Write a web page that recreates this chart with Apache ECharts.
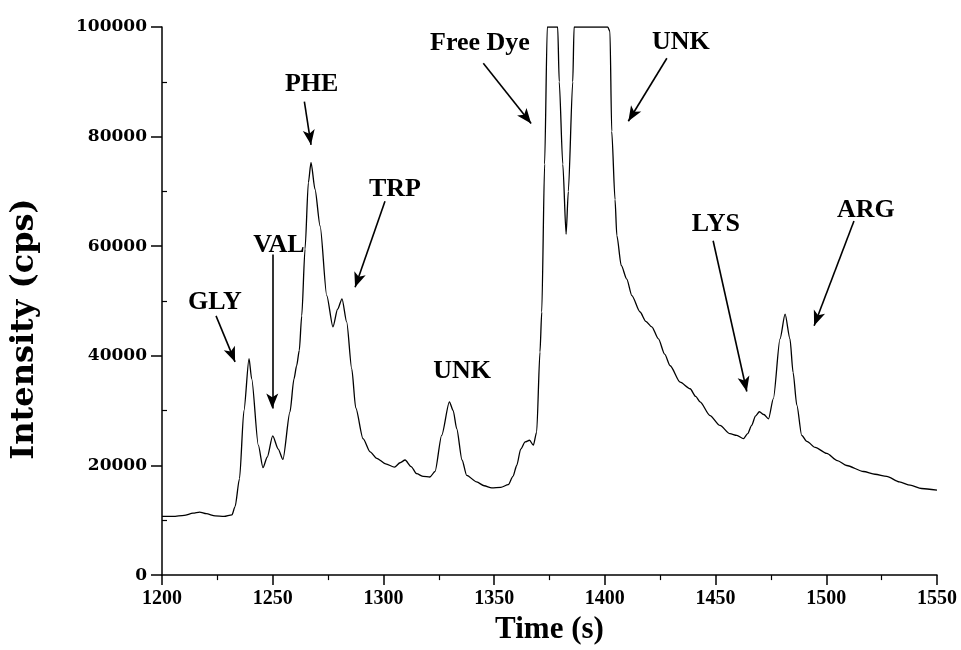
<!DOCTYPE html>
<html>
<head>
<meta charset="utf-8">
<script src="https://cdn.jsdelivr.net/npm/echarts@6/dist/echarts.min.js"></script>
<style>
    html, body { margin: 0; padding: 0; background: #fff; }
    #chart { width: 961px; height: 650px; }
</style>
</head>
<body>
<div id="chart"></div>
<script>
    // electropherogram trace, time in s, intensity in cps
    var timeS = [
        1200, 1205, 1210, 1214, 1217, 1220, 1224, 1228, 1231.6, 1233, 1235, 1237, 1239.3, 1240.5, 1243.5,
        1245.6, 1247.5, 1250, 1252.5, 1254.6, 1257.8, 1259.6, 1260.8, 1262, 1263.1, 1264.6, 1266.1, 1267.3,
        1269.1, 1271.4, 1274.4, 1277.2, 1279.3, 1281.3, 1283.4, 1285.7, 1287.5, 1290.8, 1294, 1297, 1301,
        1305, 1307.5, 1309.8, 1312.5, 1315, 1318, 1321, 1323.3, 1326.3, 1329.8, 1331.5, 1333.1, 1335.5,
        1337.6, 1342.1, 1345.5, 1348.9, 1353, 1356.4, 1358.5, 1360.2, 1362, 1364, 1366, 1367.7, 1369.2,
        1370.7, 1371.5, 1372.8, 1374, 1378.7, 1379.4, 1381, 1382.5, 1383.5, 1385.5, 1386.1, 1401.3, 1402.3,
        1403.1, 1404.6, 1405.4, 1407.4, 1409.9, 1412.2, 1415.9, 1418.5, 1421.2, 1424.2, 1427, 1429.5, 1434,
        1438.5, 1441, 1443, 1447.5, 1452, 1456.5, 1459.6, 1462.6, 1464.5, 1466.3, 1468, 1469.8, 1471.8,
        1473.9, 1476.1, 1479.1, 1481.4, 1483.6, 1485, 1486.7, 1488.9, 1491.2, 1495, 1500.2, 1505, 1509.2,
        1516.8, 1522, 1527.3, 1533, 1537.9, 1543, 1550
    ]
    var intensity = [
        10700, 10700, 10900, 11300, 11500, 11200, 10800, 10700, 11000, 12500, 17600, 30000, 39500, 35800, 23700,
        19600, 21500, 25400, 23000, 21100, 29800, 35800, 38200, 41000, 47300, 59500, 71600, 75300,
        70400, 63700, 51000, 45300, 48500, 50400, 46200, 37600, 30500, 24900, 22500, 21300, 20300,
        19700, 20500, 21000, 19800, 18500, 18000, 17900, 18900, 25500, 31600, 30000, 26700, 21000,
        18200, 17000, 16300, 15900, 16000, 16500, 18000, 20000, 23000, 24300, 24600, 23700, 26100,
        40700, 48000, 75000, 100000, 100000, 90000, 75000, 62200, 70000, 90000, 100000, 100000, 99200,
        81000, 68500, 62000, 56500, 54000, 51000, 48000, 46300, 45300, 43100, 40300, 38200, 35200,
        34000, 32600, 31600, 29100, 27300, 25800, 25500, 24900, 25800, 27300, 29000, 29800, 29300,
        28500, 32200, 43100, 47600, 43100, 37000, 31000, 25500, 24400, 23300, 22200, 20900, 20000,
        18900, 18400, 18000, 17000, 16400, 15800, 15500
    ]

    // peak labels and their arrows (data coordinates)
    var peakNames = ['GLY', 'VAL', 'PHE', 'TRP', 'UNK', 'Free Dye', 'UNK', 'LYS', 'ARG']
    var labelTime = [1223.9, 1252.8, 1267.6, 1305.2, 1335.5, 1343.6, 1434.3, 1450.1, 1517.9]
    var labelValue = [49800, 60200, 89600, 70400, 37200, 97000, 97200, 64000, 66600]
    var arrowFrom = [[1224.4, 47300], [1249.8, 58500], [1264.3, 86400], [1300.7, 68200],
        [1345.1, 93400], [1428.0, 94300], [1448.9, 61000], [1512.5, 64600]]
    var arrowTo = [[1233.0, 38900], [1249.8, 30400], [1267.3, 78500], [1287.2, 52500],
        [1366.7, 82400], [1410.6, 82800], [1464.1, 33500], [1494.5, 45500]]

    var xTicks = [1200, 1550, 50]
    var yTicks = [0, 100000, 20000]

    var serif = '"Liberation Serif", "Times New Roman", serif'
    var wideSerif = '"DejaVu Serif", serif'

    var myChart = echarts.init(document.getElementById('chart'))

    var trace = timeS.map(function (t, i) { return [t, intensity[i]] })
    var labels = peakNames.map(function (n, i) {
        return { name: n, coord: [labelTime[i], labelValue[i]] }
    })
    var arrows = arrowFrom.map(function (p, i) {
        return [{ coord: p }, { coord: arrowTo[i] }]
    })
    var plain = function (v) { return String(v) }

    var option = {
        backgroundColor: '#fff',
        animation: false,
        grid: {
            left: 162,
            right: 24,
            top: 27,
            bottom: 73
        },
        xAxis: {
            type: 'value',
            min: xTicks[0],
            max: xTicks[1],
            interval: xTicks[2],
            name: 'Time (s)',
            nameLocation: 'middle',
            nameGap: 29,
            nameTextStyle: { color: '#000', fontFamily: serif, fontWeight: 'bold', fontSize: 31 },
            axisLine: { lineStyle: { color: '#000', width: 1.5 } },
            axisTick: { length: 10, lineStyle: { color: '#000', width: 1.5 } },
            minorTick: { show: true, splitNumber: 2, length: 5, lineStyle: { color: '#000', width: 1.2 } },
            axisLabel: { color: '#000', fontFamily: serif, fontWeight: 'bold', fontSize: 20, margin: 14, formatter: plain },
            splitLine: { show: false }
        },
        yAxis: [
            {
                type: 'value',
                min: yTicks[0],
                max: yTicks[1],
                interval: yTicks[2],
                axisLine: { show: true, lineStyle: { color: '#000', width: 1.5 } },
                axisTick: { show: true, length: 11, lineStyle: { color: '#000', width: 1.5 } },
                axisLabel: { color: '#000', fontFamily: wideSerif, fontWeight: 'bold', fontSize: 17, margin: 15, formatter: plain },
                splitLine: { show: false }
            },
            {
                // inward minor ticks only
                type: 'value',
                position: 'left',
                min: yTicks[0],
                max: yTicks[1],
                interval: yTicks[2],
                axisLine: { show: false },
                axisTick: { show: false, inside: true },
                minorTick: { show: true, splitNumber: 2, length: 5, lineStyle: { color: '#000', width: 1.2 } },
                axisLabel: { show: false },
                splitLine: { show: false }
            }
        ],
        graphic: [
            {
                type: 'text',
                x: 25,
                y: 329,
                rotation: Math.PI / 2,
                style: {
                    text: 'Intensity (cps)',
                    fill: '#000',
                    font: 'bold 32px ' + wideSerif,
                    align: 'center',
                    verticalAlign: 'middle'
                }
            }
        ],
        series: [
            {
                type: 'line',
                data: trace,
                showSymbol: false,
                smooth: 0.25,
                smoothMonotone: 'x',
                lineStyle: { color: '#000', width: 1.3 },
                emphasis: { disabled: true },
                markLine: {
                    silent: true,
                    symbol: ['none', 'arrow'],
                    symbolSize: [9, 15],
                    label: { show: false },
                    lineStyle: { color: '#000', type: 'solid', width: 1.6 },
                    emphasis: { disabled: true },
                    data: arrows
                },
                markPoint: {
                    silent: true,
                    symbol: 'circle',
                    symbolSize: 1,
                    itemStyle: { color: 'rgba(0,0,0,0)' },
                    label: {
                        show: true,
                        position: 'inside',
                        formatter: '{b}',
                        color: '#000',
                        fontFamily: serif,
                        fontWeight: 'bold',
                        fontSize: 26
                    },
                    data: labels
                }
            }
        ]
    }
    myChart.setOption(option)
</script>
</body>
</html>
